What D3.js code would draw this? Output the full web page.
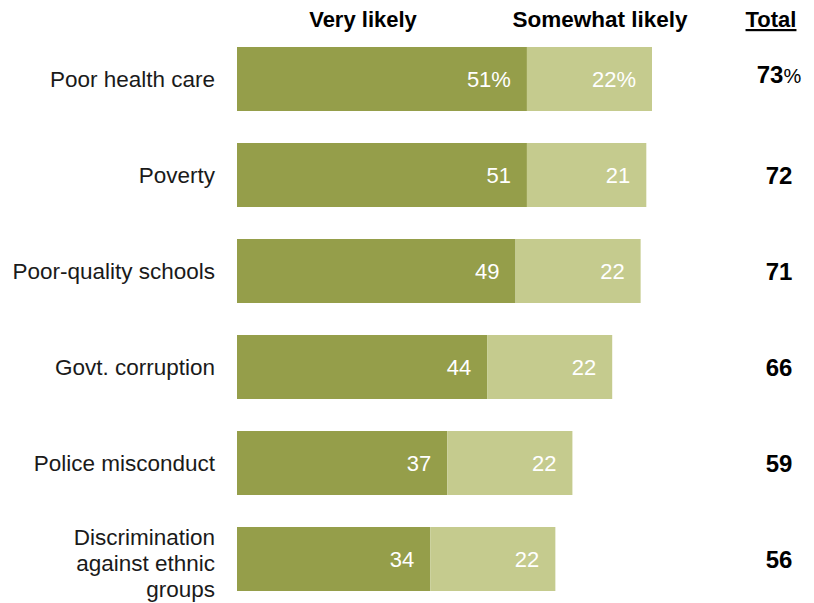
<!DOCTYPE html>
<html>
<head>
<meta charset="utf-8">
<script src="https://cdn.jsdelivr.net/npm/d3@7"></script>
<style>
  html, body { margin: 0; padding: 0; background: #fff; }
  svg { display: block; }
</style>
</head>
<body>
<svg id="chart" width="814" height="603"></svg>
<script>
// Survey items, top to bottom
const categories = [
  ["Poor health care"],
  ["Poverty"],
  ["Poor-quality schools"],
  ["Govt. corruption"],
  ["Police misconduct"],
  ["Discrimination", "against ethnic", "groups"]
];
const veryLikely = [51, 51, 49, 44, 37, 34];
const somewhatLikely = [22, 21, 22, 22, 22, 22];
const totals = [73, 72, 71, 66, 59, 56];
const headers = ["Very likely", "Somewhat likely", "Total"];

const colors = { very: "#959e4a", somewhat: "#c5cb8e" };

const svg = d3.select("#chart");

const x = d3.scaleLinear().domain([0, 73]).range([237, 652]);
const y = d3.scaleBand()
  .domain(d3.range(categories.length))
  .range([47, 591])
  .paddingInner(1 / 3)
  .paddingOuter(0);

const labelFont = "'Liberation Sans', Arial, sans-serif";
const headFont = "'Liberation Sans Narrow', 'Liberation Sans', Arial, sans-serif";

// Column headers
const headerPos = [363, 600, 771];
headers.forEach((h, i) => {
  svg.append("text")
    .attr("x", headerPos[i]).attr("y", 27)
    .attr("text-anchor", "middle")
    .attr("font-family", headFont).attr("font-weight", "bold")
    .attr("font-size", i === 1 ? 22.5 : 22)
    .attr("text-decoration", i === 2 ? "underline" : null)
    .text(h);
});

const rows = svg.selectAll("g.row")
  .data(categories.map((c, i) => ({
    label: c, very: veryLikely[i], some: somewhatLikely[i], total: totals[i], i
  })))
  .join("g")
  .attr("class", "row");

// Very likely segment
rows.append("rect")
  .attr("x", x(0))
  .attr("y", d => y(d.i))
  .attr("width", d => x(d.very) - x(0))
  .attr("height", y.bandwidth())
  .attr("fill", colors.very);

// Somewhat likely segment
rows.append("rect")
  .attr("x", d => x(d.very))
  .attr("y", d => y(d.i))
  .attr("width", d => x(d.very + d.some) - x(d.very))
  .attr("height", y.bandwidth())
  .attr("fill", colors.somewhat);

// Segment value labels
rows.append("text")
  .attr("x", d => x(d.very) - 16)
  .attr("y", d => y(d.i) + y.bandwidth() / 2 + 8)
  .attr("text-anchor", "end")
  .attr("font-family", labelFont).attr("font-size", 22)
  .attr("fill", "#fff")
  .text(d => d.i === 0 ? d.very + "%" : d.very);
rows.append("text")
  .attr("x", d => x(d.very + d.some) - 16)
  .attr("y", d => y(d.i) + y.bandwidth() / 2 + 8)
  .attr("text-anchor", "end")
  .attr("font-family", labelFont).attr("font-size", 22)
  .attr("fill", "#fff")
  .text(d => d.i === 0 ? d.some + "%" : d.some);

// Category labels
rows.each(function(d) {
  const n = d.label.length;
  const lh = 26;
  const cy = y(d.i) + y.bandwidth() / 2;
  const t = d3.select(this).append("text")
    .attr("text-anchor", "end")
    .attr("font-family", labelFont).attr("font-size", 22.5)
    .attr("fill", "#1a1a1a");
  d.label.forEach((line, k) => {
    t.append("tspan")
      .attr("x", 215)
      .attr("y", cy + 8 + (n > 1 ? 4 : 0) + (k - (n - 1) / 2) * lh)
      .text(line);
  });
});

// Totals column
rows.each(function(d) {
  const t = d3.select(this).append("text")
    .attr("x", 779)
    .attr("y", y(d.i) + y.bandwidth() / 2 + (d.i === 0 ? 4 : 9))
    .attr("text-anchor", "middle")
    .attr("font-family", labelFont).attr("font-weight", "bold").attr("font-size", 24)
    .attr("fill", "#000");
  t.append("tspan").text(d.total);
  if (d.i === 0) t.append("tspan").attr("font-weight", "normal").attr("font-size", 20).text("%");
});
</script>
</body>
</html>
